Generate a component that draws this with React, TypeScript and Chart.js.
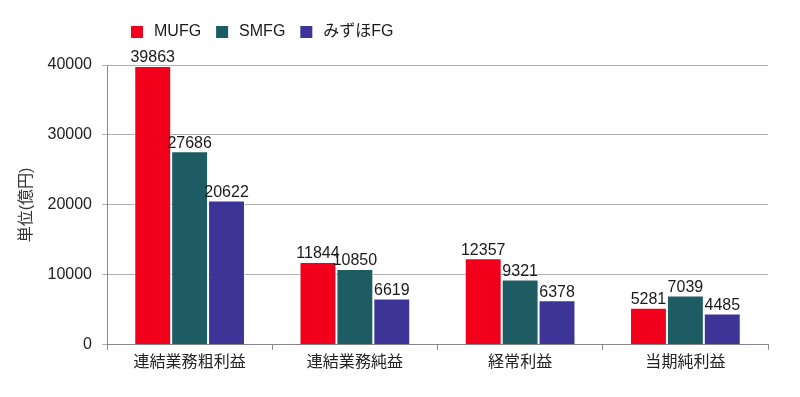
import React, { useEffect, useRef } from "react";
import { Chart, registerables } from "chart.js";

Chart.register(...registerables);

const categories = ["連結業務粗利益", "連結業務純益", "経常利益", "当期純利益"];
const seriesNames = ["MUFG", "SMFG", "みずほFG"];
const mufg = [39863, 11844, 12357, 5281];
const smfg = [27686, 10850, 9321, 7039];
const mizuho = [20622, 6619, 6378, 4485];
const colors = ["#F2001B", "#1E5C63", "#3D3497"];
const yTicks = [0, 10000, 20000, 30000, 40000];

const FONT = "'Liberation Sans', Arial, 'Noto Sans CJK JP', sans-serif";

const valueLabels = {
  id: "valueLabels",
  afterDatasetsDraw(chart: any) {
    const ctx = chart.ctx;
    ctx.save();
    ctx.font = `16px ${FONT}`;
    ctx.fillStyle = "#1a1a1a";
    ctx.textAlign = "center";
    ctx.textBaseline = "bottom";
    chart.data.datasets.forEach((ds: any, i: number) => {
      const meta = chart.getDatasetMeta(i);
      meta.data.forEach((bar: any, j: number) => {
        ctx.fillText(String(ds.data[j]), bar.x, bar.y);
      });
    });
    ctx.restore();
  },
};

const customLegend = {
  id: "customLegend",
  afterDraw(chart: any) {
    const ctx = chart.ctx;
    ctx.save();
    ctx.font = `16px ${FONT}`;
    ctx.textBaseline = "middle";
    ctx.textAlign = "left";
    let x = 131;
    const y = 32;
    chart.data.datasets.forEach((ds: any) => {
      ctx.fillStyle = ds.backgroundColor;
      ctx.fillRect(x, y - 6, 12, 12);
      ctx.fillStyle = "#1a1a1a";
      ctx.fillText(ds.label, x + 23, y);
      x += 23 + ctx.measureText(ds.label).width + 15;
    });
    ctx.restore();
  },
};

export default function App() {
  const ref = useRef<HTMLCanvasElement>(null);
  useEffect(() => {
    document.body.style.margin = "0";
    const data = [mufg, smfg, mizuho];
    const chart = new Chart(ref.current!, {
      type: "bar",
      data: {
        labels: categories,
        datasets: seriesNames.map((name, i) => ({
          label: name,
          data: data[i],
          backgroundColor: colors[i],
          borderColor: "rgba(255,255,255,0.7)",
          borderWidth: 1,
          categoryPercentage: 0.67,
          barPercentage: 1,
        })),
      },
      options: {
        animation: false,
        responsive: false,
        maintainAspectRatio: false,
        layout: { padding: { top: 65, right: 32, bottom: 22, left: 17 } },
        plugins: {
          legend: { display: false },
          tooltip: { enabled: false },
        },
        scales: {
          x: {
            offset: true,
            grid: {
              display: true,
              drawOnChartArea: false,
              drawTicks: true,
              tickLength: 5,
              color: "#888",
              offset: true,
            },
            border: { color: "#888", width: 1 },
            ticks: {
              color: "#222",
              font: { size: 16, family: FONT },
              padding: 3,
            },
          },
          y: {
            min: 0,
            max: 40000,
            afterBuildTicks(scale: any) {
              scale.ticks = yTicks.map((v) => ({ value: v }));
            },
            afterFit(scale: any) {
              scale.width = 90;
            },
            grid: {
              color: "#b0b0b0",
              tickLength: 5,
            },
            border: { color: "#888", width: 1 },
            ticks: {
              color: "#222",
              font: { size: 16, family: FONT },
              padding: 10,
              callback: (v: any) => String(v),
            },
            title: {
              display: true,
              text: "単位(億円)",
              color: "#333",
              font: { size: 16, family: FONT },
              padding: 0,
            },
          },
        },
      },
      plugins: [valueLabels, customLegend],
    });
    return () => chart.destroy();
  }, []);
  return (
    <div style={{ position: "fixed", left: 0, top: 0, width: 800, height: 397, background: "#fff" }}>
      <canvas ref={ref} width={800} height={397} />
    </div>
  );
}
